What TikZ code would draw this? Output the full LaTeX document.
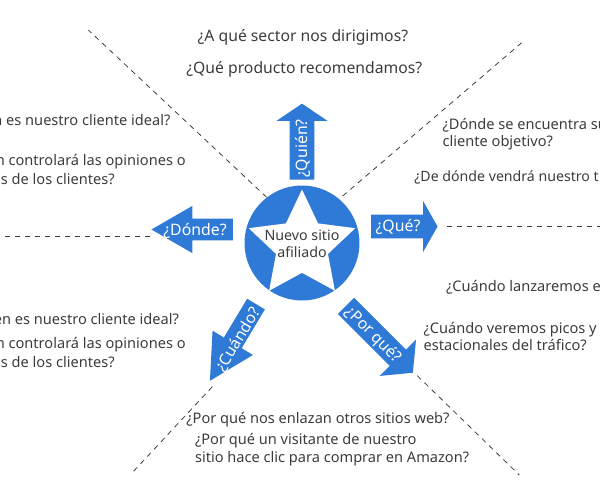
\documentclass[tikz,border=0pt]{standalone}
\usepackage{fontspec}
\setmainfont{Noto Sans}
\usetikzlibrary{shapes.geometric, shapes.arrows}
\definecolor{hubblue}{RGB}{47,122,214}
\definecolor{qgray}{RGB}{60,60,62}

\begin{document}
\begin{tikzpicture}[
        x=0.02cm, y=-0.02cm,
        hub/.style={circle, fill=hubblue, inner sep=0pt, minimum size=2.3cm},
        starbox/.style={star, star points=5, star point ratio=2.05, fill=white, inner sep=0pt, minimum size=2.24cm},
        hubtext/.style={align=center, text=qgray, inner sep=0pt, font=\fontsize{8.1}{10}\selectfont},
        arrowbox/.style={single arrow, fill=hubblue, inner xsep=0pt, anchor=tail, single arrow head indent=0pt},
        arrowtext/.style={text=white, inner sep=0pt, font=\fontsize{9}{10}\selectfont},
        question/.style={anchor=west, align=left, text=qgray, inner sep=0pt, font=\fontsize{8.3}{9.96}\selectfont},
        questionr/.style={question, anchor=east},
        bigquestion/.style={question, font=\fontsize{8.95}{10}\selectfont},
        guide/.style={draw=qgray, line width=0.45pt, dash pattern=on 3pt off 2.7pt}
    ]
        \useasboundingbox (0,0) rectangle (600,480);
        \clip (0,0) rectangle (600,480);

        % 1. Centre
        \node (hubdisc) [hub] at (302,243) {};
        \node (hubstar) [starbox] at (302,245.5) {};
        \node (hublabel) [hubtext] at (302,244) {Nuevo sitio \\ afiliado};

        % 2. Arrows
        \node (quien) [arrowbox, rotate=90, inner ysep=0.24cm, minimum height=1.52cm, minimum width=1cm, single arrow head extend=0.26cm, single arrow tip angle=112] at (302,180) {};
        \node (que) [arrowbox, inner ysep=0.233cm, minimum height=1.33cm, minimum width=1cm, single arrow head extend=0.27cm, single arrow tip angle=121] at (370.7,226.5) {};
        \node (donde) [arrowbox, rotate=180, inner ysep=0.21cm, minimum height=1.63cm, minimum width=0.93cm, single arrow head extend=0.256cm, single arrow tip angle=60] at (233.3,229.5) {};
        \node (cuando) [arrowbox, rotate=239, inner ysep=0.2cm, minimum height=1.79cm, minimum width=0.93cm, single arrow head extend=0.264cm, single arrow tip angle=56] at (256.2,303.8) {};
        \node (porque) [arrowbox, rotate=-45, inner ysep=0.224cm, minimum height=1.89cm, minimum width=1.02cm, single arrow head extend=0.284cm, single arrow tip angle=101] at (345.8,305.7) {};

        \node (quienlabel) [arrowtext, rotate=90] at (303,148.6) {¿Quién?};
        \node (quelabel) [arrowtext] at (398,226.7) {¿Qué?};
        \node (dondelabel) [arrowtext] at (195,230.7) {¿Dónde?};
        \node (cuandolabel) [arrowtext, rotate=59] at (238.3,340) {¿Cuándo?};
        \node (porquelabel) [arrowtext, rotate=-45] at (373.3,335) {¿Por qué?};

        % 3. Top and right questions
        \node (sector) [bigquestion] at (197.3,37) {¿A qué sector nos dirigimos?};
        \node (producto) [bigquestion] at (186,69) {¿Qué producto recomendamos?};
        \node (encuentra) [question] at (442.3,134) {¿Dónde se encuentra su \\ cliente objetivo?};
        \node (vendra) [question, font=\fontsize{8.05}{9.96}\selectfont] at (414,177) {¿De dónde vendrá nuestro t};
        \node (lanzaremos) [question] at (445.7,287.7) {¿Cuándo lanzaremos e};
        \node (picos) [question] at (423.3,336.3) {¿Cuándo veremos picos y \\ estacionales del tráfico?};

        % 4. Left questions
        \node (ideala) [questionr] at (170.7,120) {n es nuestro cliente ideal?};
        \node (controlaa) [questionr] at (186,161.7) {n controlará las opiniones o};
        \node (clientesa) [questionr] at (115,179) {s de los clientes?};
        \node (idealb) [questionr] at (179.3,318.7) {én es nuestro cliente ideal?};
        \node (controlab) [questionr] at (186,344.3) {n controlará las opiniones o};
        \node (clientesb) [questionr] at (115,361.7) {s de los clientes?};

        % 5. Bottom questions
        \node (enlazan) [question] at (186,419.3) {¿Por qué nos enlazan otros sitios web?};
        \node (visitante) [question] at (194.7,449.8) {¿Por qué un visitante de nuestro \\ sitio hace clic para comprar en Amazon?};

        % Connections
        \coordinate (endnw) at (88.3,30);
        \coordinate (startnw) at (266.7,197.3);
        \coordinate (endne) at (521.7,42.7);
        \coordinate (startne) at (342.7,196);
        \coordinate (ende) at (600,226.5);
        \coordinate (starte) at (447,226.5);
        \coordinate (endw) at (0,236);
        \coordinate (startw) at (150,236);
        \coordinate (endsw) at (131.7,473.3);
        \coordinate (startsw) at (212.3,386.7);
        \coordinate (endse) at (519.3,475);
        \coordinate (startse) at (417.3,375.7);

        \draw [guide] (startnw) -- (endnw);
        \draw [guide] (startne) -- (endne);
        \draw [guide] (starte) -- (ende);
        \draw [guide] (startw) -- (endw);
        \draw [guide] (startsw) -- (endsw);
        \draw [guide] (startse) -- (endse);

    \end{tikzpicture}
\end{document}
